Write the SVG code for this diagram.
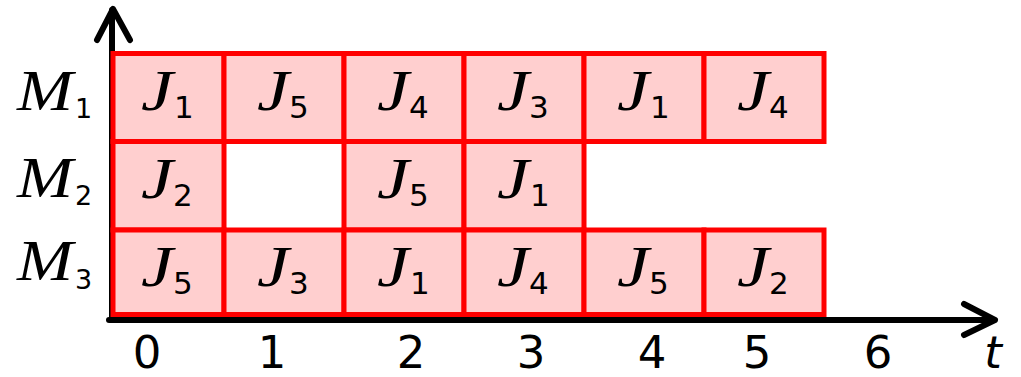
<svg xmlns="http://www.w3.org/2000/svg" width="1021" height="377" viewBox="0 0 1021 377">
<style>
.cell{fill:#ffcfcf;stroke:#ff0000;stroke-width:5}
.j{font-family:"Liberation Serif",serif;font-style:italic;font-size:58px;fill:#000;text-anchor:end}
.s{font-family:"DejaVu Sans",sans-serif;font-size:31px;fill:#000}
.m{font-family:"Liberation Serif",serif;font-style:italic;font-size:58px;fill:#000}
.ms{font-family:"DejaVu Sans",sans-serif;font-size:27px;fill:#000}
.ax{stroke:#000;stroke-width:6;fill:none;stroke-linecap:round;stroke-linejoin:round}
.tk{font-family:"DejaVu Sans",sans-serif;font-size:45px;fill:#000;text-anchor:middle}
</style>
<rect width="1021" height="377" fill="#fff"/>
<g id="connectors">
<line class="ax" x1="112" y1="320" x2="112" y2="10"/>
<polyline class="ax" points="97,40 113,9 130,40"/>
<line class="ax" x1="109" y1="320" x2="994" y2="320"/>
<polyline class="ax" points="964,304 995,320 964,335"/>
</g>
<g id="labels">
<g id="m1"><text class="m" x="17" y="110" textLength="56" lengthAdjust="spacingAndGlyphs">M</text><text class="ms" x="75" y="118">1</text></g>
<g id="m2"><text class="m" x="17" y="197" textLength="56" lengthAdjust="spacingAndGlyphs">M</text><text class="ms" x="75" y="205">2</text></g>
<g id="m3"><text class="m" x="17" y="280" textLength="56" lengthAdjust="spacingAndGlyphs">M</text><text class="ms" x="75" y="289">3</text></g>
<text class="tk" x="147" y="368">0</text>
<text class="tk" x="272" y="368">1</text>
<text class="tk" x="411" y="368">2</text>
<text class="tk" x="531" y="368">3</text>
<text class="tk" x="652" y="368">4</text>
<text class="tk" x="757" y="368">5</text>
<text class="tk" x="878" y="368">6</text>
<text class="tk" x="993" y="368" font-style="italic">t</text>
</g>
<g id="row1">
<g id="r1c0"><rect class="cell" x="113" y="53.5" width="111" height="88"/><text class="j" x="173" y="110" textLength="32" lengthAdjust="spacingAndGlyphs">J</text><text class="s" x="174" y="118">1</text></g>
<g id="r1c1"><rect class="cell" x="224" y="53.5" width="120" height="88"/><text class="j" x="289" y="110" textLength="32" lengthAdjust="spacingAndGlyphs">J</text><text class="s" x="289" y="118">5</text></g>
<g id="r1c2"><rect class="cell" x="344" y="53.5" width="120" height="88"/><text class="j" x="409" y="110" textLength="32" lengthAdjust="spacingAndGlyphs">J</text><text class="s" x="409" y="118">4</text></g>
<g id="r1c3"><rect class="cell" x="464" y="53.5" width="120" height="88"/><text class="j" x="529" y="110" textLength="32" lengthAdjust="spacingAndGlyphs">J</text><text class="s" x="529" y="118">3</text></g>
<g id="r1c4"><rect class="cell" x="584" y="53.5" width="120" height="88"/><text class="j" x="649" y="110" textLength="32" lengthAdjust="spacingAndGlyphs">J</text><text class="s" x="650" y="118">1</text></g>
<g id="r1c5"><rect class="cell" x="704" y="53.5" width="120" height="88"/><text class="j" x="769" y="110" textLength="32" lengthAdjust="spacingAndGlyphs">J</text><text class="s" x="769" y="118">4</text></g>
</g>
<g id="row2">
<g id="r2c0"><rect class="cell" x="113" y="141.5" width="111" height="88.5"/><text class="j" x="173" y="198" textLength="32" lengthAdjust="spacingAndGlyphs">J</text><text class="s" x="173" y="206">2</text></g>
<g id="r2c2"><rect class="cell" x="344" y="141.5" width="120" height="88.5"/><text class="j" x="409" y="198" textLength="32" lengthAdjust="spacingAndGlyphs">J</text><text class="s" x="409" y="206">5</text></g>
<g id="r2c3"><rect class="cell" x="464" y="141.5" width="120" height="88.5"/><text class="j" x="529" y="198" textLength="32" lengthAdjust="spacingAndGlyphs">J</text><text class="s" x="530" y="206">1</text></g>
</g>
<g id="row3">
<g id="r3c0"><rect class="cell" x="113" y="230" width="111" height="84.5"/><text class="j" x="173" y="286" textLength="32" lengthAdjust="spacingAndGlyphs">J</text><text class="s" x="173" y="294">5</text></g>
<g id="r3c1"><rect class="cell" x="224" y="230" width="120" height="84.5"/><text class="j" x="289" y="286" textLength="32" lengthAdjust="spacingAndGlyphs">J</text><text class="s" x="289" y="294">3</text></g>
<g id="r3c2"><rect class="cell" x="344" y="230" width="120" height="84.5"/><text class="j" x="409" y="286" textLength="32" lengthAdjust="spacingAndGlyphs">J</text><text class="s" x="410" y="294">1</text></g>
<g id="r3c3"><rect class="cell" x="464" y="230" width="120" height="84.5"/><text class="j" x="529" y="286" textLength="32" lengthAdjust="spacingAndGlyphs">J</text><text class="s" x="529" y="294">4</text></g>
<g id="r3c4"><rect class="cell" x="584" y="230" width="120" height="84.5"/><text class="j" x="649" y="286" textLength="32" lengthAdjust="spacingAndGlyphs">J</text><text class="s" x="649" y="294">5</text></g>
<g id="r3c5"><rect class="cell" x="704" y="230" width="120" height="84.5"/><text class="j" x="769" y="286" textLength="32" lengthAdjust="spacingAndGlyphs">J</text><text class="s" x="769" y="294">2</text></g>
</g>
</svg>
